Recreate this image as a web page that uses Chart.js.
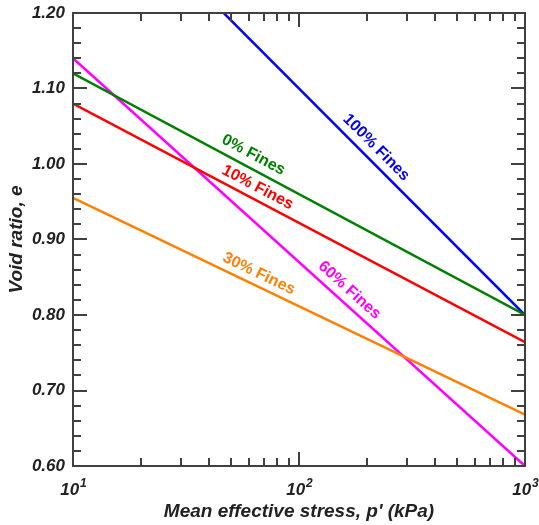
<!DOCTYPE html>
<html>
<head>
<meta charset="utf-8">
<script src="https://cdn.jsdelivr.net/npm/chart.js@4/dist/chart.umd.min.js"></script>
<style>
  html, body { margin: 0; padding: 0; background: #fff; }
  #wrap { width: 539px; height: 525px; }
</style>
</head>
<body>
<div id="wrap"><canvas id="chart"></canvas></div>
<script>
// data
const stress = [10, 1000];
const fines0 = [1.12, 0.80];
const fines10 = [1.08, 0.764];
const fines30 = [0.955, 0.668];
const fines60 = [1.14, 0.60];
const fines100 = [1.40, 0.80];
const seriesNames = ['0% Fines', '10% Fines', '30% Fines', '60% Fines', '100% Fines'];
const seriesValues = [fines0, fines10, fines30, fines60, fines100];
const seriesColors = ['#008000', '#ff0000', '#ff8000', '#ff00ff', '#0000ff'];
const xDecades = [10, 100, 1000];
const xExponents = ['1', '2', '3'];

// where each line label sits (x in kPa, shift off the line in px)
const labelAt = [
  { x: 59, shift: 13 },
  { x: 62, shift: 12 },
  { x: 63, shift: 12 },
  { x: 153, shift: 13 },
  { x: 200, shift: 13 },
];

const FONT = "'Liberation Sans', Arial, sans-serif";
const AXIS = '#404040';
const TEXT = '#222';

const frameTicks = {
  id: 'frameTicks',
  afterDatasetsDraw(chart) {
    const { ctx, chartArea: a, scales: { x, y } } = chart;
    ctx.save();
    ctx.strokeStyle = AXIS;
    ctx.lineWidth = 2;
    ctx.beginPath();
    for (let v = 60; v <= 120; v += 2) {
      const py = Math.round(y.getPixelForValue(v / 100));
      const len = v % 10 === 0 ? 14 : 8;
      ctx.moveTo(a.left, py); ctx.lineTo(a.left + len, py);
      ctx.moveTo(a.right, py); ctx.lineTo(a.right - len, py);
    }
    for (let d = 10; d <= 1000; d *= 10) {
      for (let k = 1; k <= 9; k++) {
        const v = k * d;
        if (v > 1000) break;
        const px = Math.round(x.getPixelForValue(v));
        const len = k === 1 ? 14 : 8;
        ctx.moveTo(px, a.bottom); ctx.lineTo(px, a.bottom - len);
        ctx.moveTo(px, a.top); ctx.lineTo(px, a.top + len);
      }
    }
    ctx.stroke();
    ctx.strokeRect(a.left, a.top, a.right - a.left, a.bottom - a.top);

    // x tick labels as 10 with a raised exponent
    ctx.fillStyle = TEXT;
    ctx.textBaseline = 'alphabetic';
    xDecades.forEach((v, i) => {
      const px = x.getPixelForValue(v);
      const big = 'italic bold 17px ' + FONT;
      const small = 'italic bold 12px ' + FONT;
      ctx.font = big;
      const wb = ctx.measureText('10').width;
      ctx.font = small;
      const ws = ctx.measureText(xExponents[i]).width;
      const x0 = px - (wb + ws) / 2;
      ctx.font = big;
      ctx.textAlign = 'left';
      ctx.fillText('10', x0, a.bottom + 29);
      ctx.font = small;
      ctx.fillText(xExponents[i], x0 + wb + 1, a.bottom + 21);
    });
    ctx.restore();
  }
};

const lineLabels = {
  id: 'lineLabels',
  afterDatasetsDraw(chart) {
    const { ctx, scales: { x } } = chart;
    ctx.save();
    ctx.font = 'bold 16px ' + FONT;
    ctx.textAlign = 'center';
    ctx.textBaseline = 'middle';
    chart.data.datasets.forEach((ds, i) => {
      const pts = chart.getDatasetMeta(i).data;
      const p0 = pts[0], p1 = pts[1];
      const ang = Math.atan2(p1.y - p0.y, p1.x - p0.x);
      const px = x.getPixelForValue(labelAt[i].x);
      const py = p0.y + (px - p0.x) * (p1.y - p0.y) / (p1.x - p0.x);
      const s = labelAt[i].shift;
      ctx.save();
      ctx.translate(px + s * Math.sin(ang), py - s * Math.cos(ang));
      ctx.rotate(ang);
      ctx.fillStyle = ds.borderColor;
      ctx.fillText(ds.label, 0, 0);
      ctx.restore();
    });
    ctx.restore();
  }
};

new Chart(document.getElementById('chart'), {
  type: 'line',
  data: {
    datasets: seriesNames.map((name, i) => ({
      label: name,
      data: stress.map((p, j) => ({ x: p, y: seriesValues[i][j] })),
      borderColor: seriesColors[i],
      borderWidth: 2.5,
      pointRadius: 0,
      fill: false,
      tension: 0,
    })),
  },
  options: {
    responsive: true,
    maintainAspectRatio: false,
    animation: false,
    events: [],
    layout: { padding: { top: 13, right: 14, left: 0, bottom: 0 } },
    plugins: { legend: { display: false }, tooltip: { enabled: false } },
    scales: {
      x: {
        type: 'logarithmic',
        min: 10,
        max: 1000,
        grid: { display: false, drawTicks: false },
        border: { display: false },
        afterFit: s => { s.height = 59; s.paddingLeft = 0; s.paddingRight = 0; },
        ticks: { display: false },
        title: {
          display: true,
          text: "Mean effective stress, p' (kPa)",
          color: TEXT,
          padding: { top: 0, bottom: 2 },
          font: { family: FONT, size: 19, weight: 'bold', style: 'italic' },
        },
      },
      y: {
        min: 0.6,
        max: 1.2,
        grid: { display: false, drawTicks: false },
        border: { display: false },
        afterFit: s => { s.width = 73; s.paddingTop = 0; s.paddingBottom = 0; },
        ticks: {
          stepSize: 0.1,
          padding: 8,
          color: TEXT,
          font: { family: FONT, size: 17, weight: 'bold', style: 'italic' },
          callback: v => v.toFixed(2),
        },
        title: {
          display: true,
          text: 'Void ratio, e',
          color: TEXT,
          padding: { top: 5, bottom: 0 },
          font: { family: FONT, size: 19, weight: 'bold', style: 'italic' },
        },
      },
    },
  },
  plugins: [frameTicks, lineLabels],
});
</script>
</body>
</html>
